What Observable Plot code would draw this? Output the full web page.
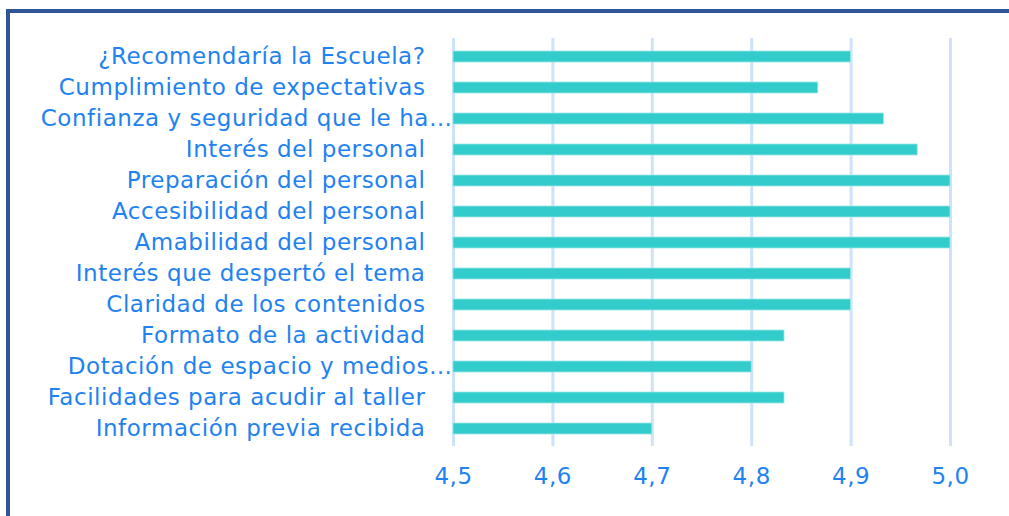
<!DOCTYPE html>
<html>
<head>
<meta charset="utf-8">
<script src="https://cdn.jsdelivr.net/npm/d3@7"></script>
<script src="https://cdn.jsdelivr.net/npm/@observablehq/plot@0.6"></script>
<style>
  html, body { margin: 0; padding: 0; background: #fff; overflow: hidden; width: 1009px; height: 516px; }
  #frame { position: absolute; left: 6px; top: 9px; width: 1100px; height: 600px; border: 4px solid #2f5597; box-sizing: border-box; }
  #chart { position: absolute; left: 0; top: 0; }
  #chart text { letter-spacing: 0.55px; }
</style>
</head>
<body>
<div id="frame"></div>
<div id="chart"></div>
<script>
const categories = [
  "¿Recomendaría la Escuela?",
  "Cumplimiento de expectativas",
  "Confianza y seguridad que le ha…",
  "Interés del personal",
  "Preparación del personal",
  "Accesibilidad del personal",
  "Amabilidad del personal",
  "Interés que despertó el tema",
  "Claridad de los contenidos",
  "Formato de la actividad",
  "Dotación de espacio y medios…",
  "Facilidades para acudir al taller",
  "Información previa recibida"
];
const values = [4.9, 4.867, 4.933, 4.967, 5.0, 5.0, 5.0, 4.9, 4.9, 4.833, 4.8, 4.833, 4.7];
const truncated = [false, false, true, false, false, false, false, false, false, false, true, false, false];
const xTicks = [4.5, 4.6, 4.7, 4.8, 4.9, 5.0];
const xMin = 4.5, xMax = 5.0;

const data = categories.map((c, i) => ({category: c, value: values[i], truncated: truncated[i]}));

const textColor = "#1e82f0";
const chart = Plot.plot({
  width: 1009,
  height: 516,
  marginLeft: 453,
  marginRight: 59,
  marginTop: 38,
  marginBottom: 70,
  style: {fontFamily: "'DejaVu Sans', sans-serif", fontSize: "23px", color: textColor, background: "transparent"},
  x: {domain: [xMin, xMax], ticks: xTicks, label: null},
  y: {type: "band", domain: categories, paddingInner: 0.65, paddingOuter: 0.33, label: null, axis: null},
  marks: [
    Plot.ruleX(xTicks, {stroke: "#cce3fb", strokeWidth: 3}),
    Plot.barX(data, {y: "category", x1: xMin, x2: "value", fill: "#33cccc", stroke: "#9fe5e5", strokeWidth: 0.8}),
    Plot.axisX(xTicks, {tickSize: 0, tickPadding: 21, tickFormat: d => d.toFixed(1).replace(".", ","), fill: textColor, fontSize: 23, label: null}),
    Plot.text(data.filter(d => !d.truncated), {y: "category", text: "category", frameAnchor: "left", textAnchor: "end", dx: -28, fill: textColor, fontSize: 23}),
    Plot.text(data.filter(d => d.truncated), {y: "category", text: "category", frameAnchor: "left", textAnchor: "end", dx: -1, fill: textColor, fontSize: 23})
  ]
});
document.getElementById("chart").appendChild(chart);
</script>
</body>
</html>
